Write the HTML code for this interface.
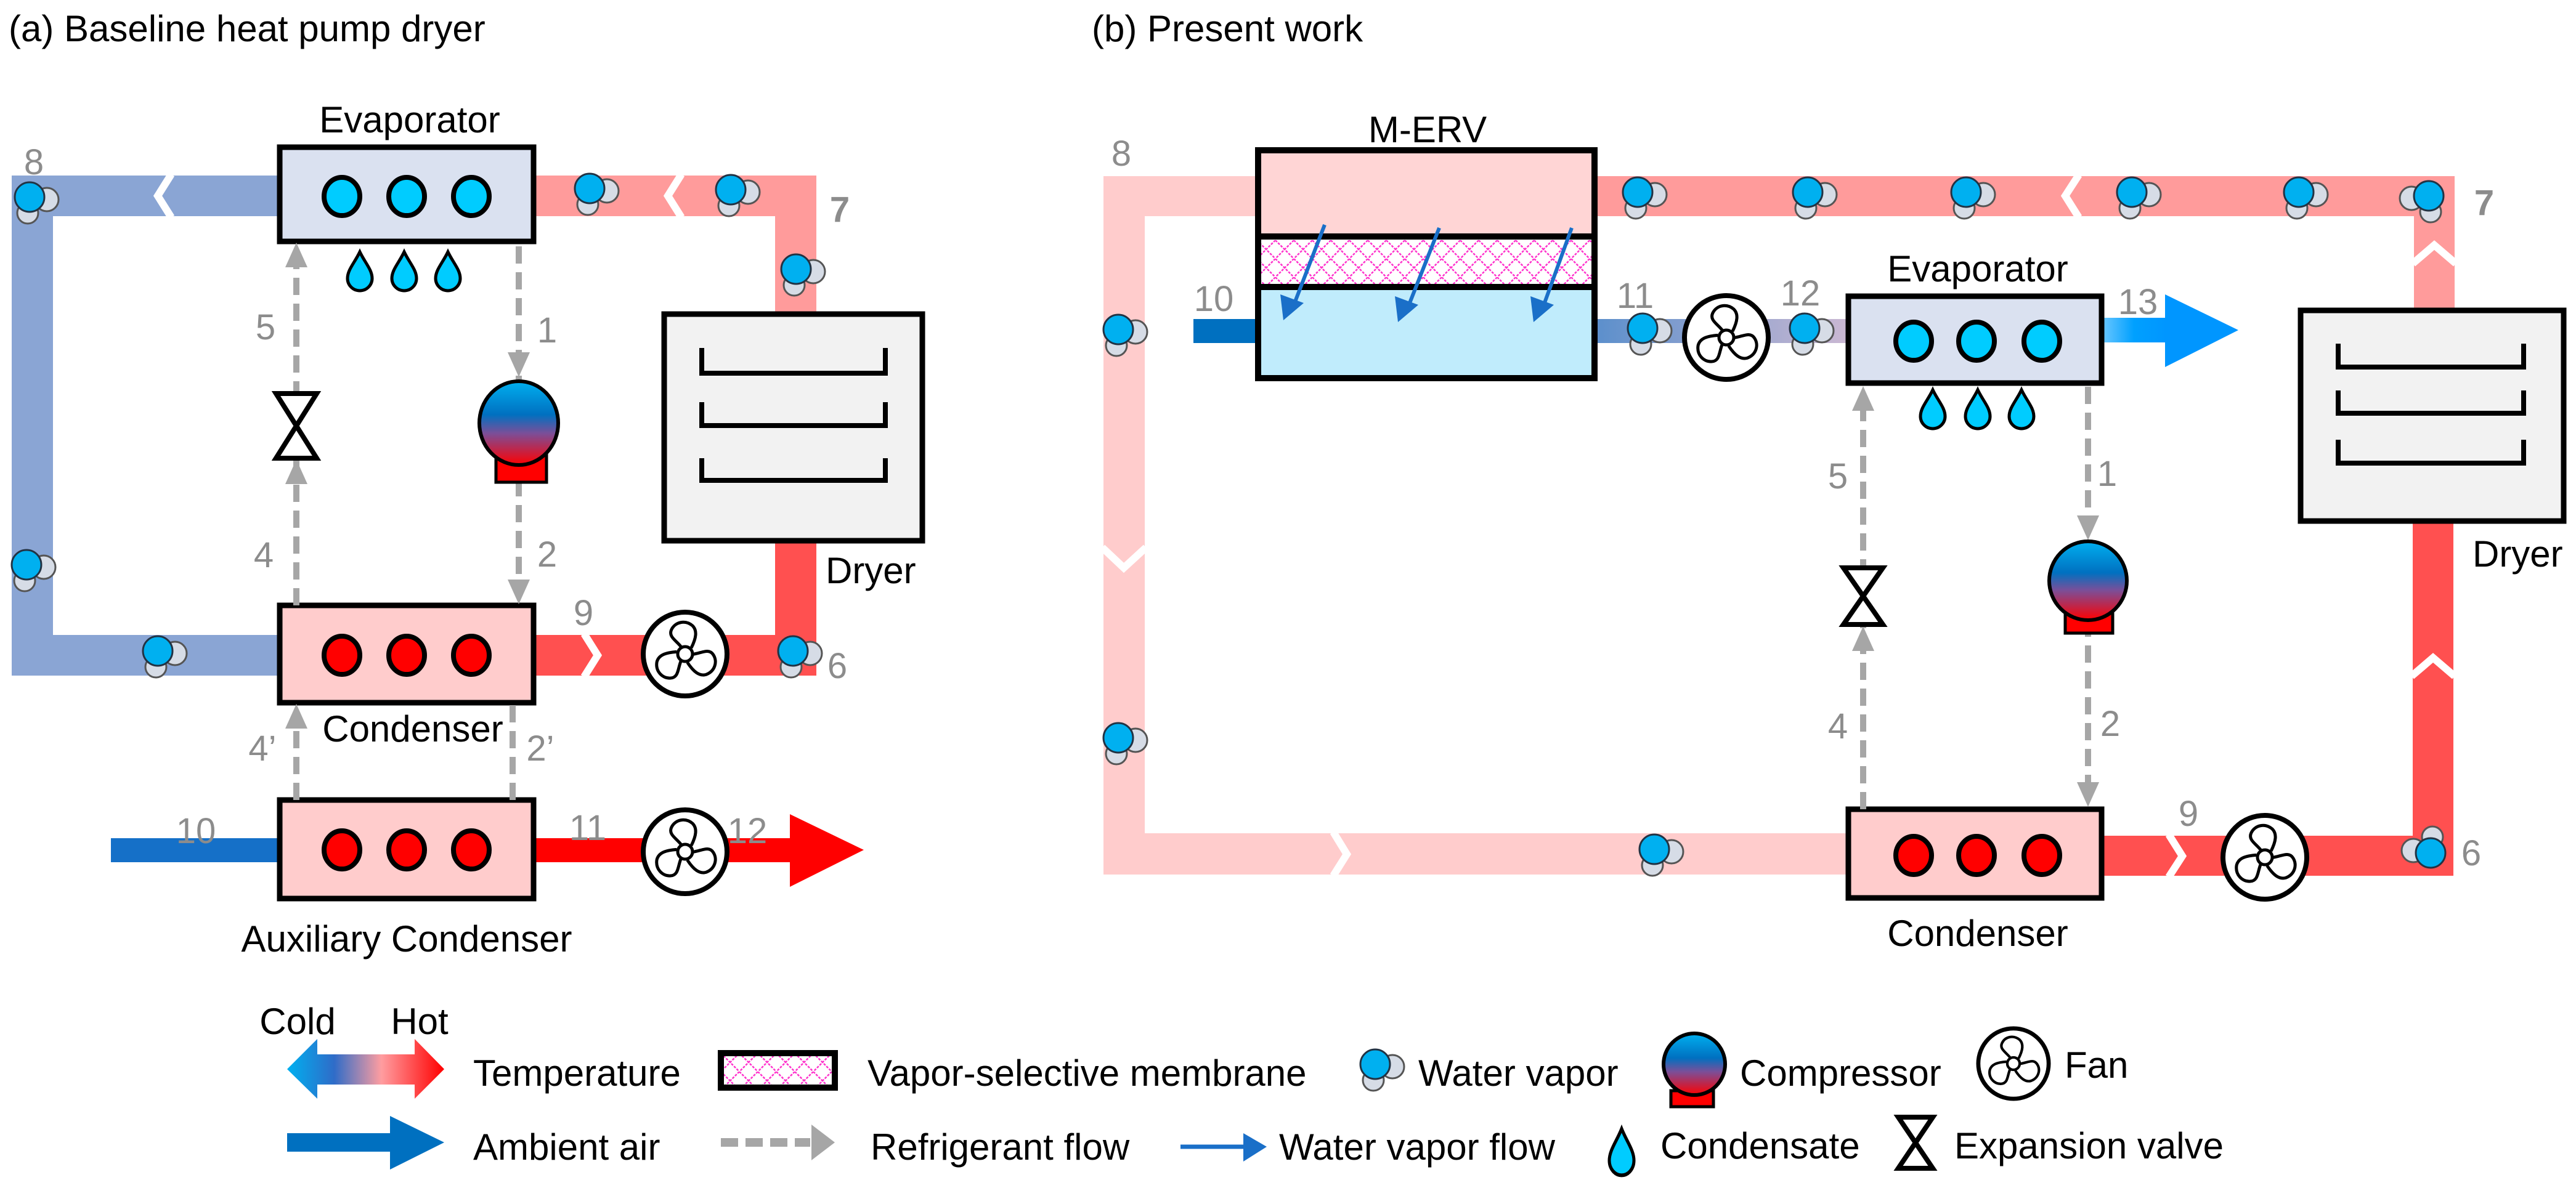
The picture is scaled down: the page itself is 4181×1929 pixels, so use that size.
<!DOCTYPE html>
<html><head><meta charset="utf-8"><style>
html,body{margin:0;padding:0;background:#fff}
svg{display:block}
text{font-family:"Liberation Sans",Arial,sans-serif}
.lb{font-size:60px;fill:#000}
.nm{font-size:58px;fill:#8c8c8c}
</style></head><body>
<svg width="4181" height="1929" viewBox="0 0 4181 1929" xmlns="http://www.w3.org/2000/svg">
<defs>
<g id="mol">
<circle cx="28" cy="4" r="19" fill="#d6dce6" stroke="#555" stroke-width="3"/>
<circle cx="-3" cy="26" r="17" fill="#d6dce6" stroke="#555" stroke-width="3"/>
<circle cx="0" cy="0" r="24" fill="#00b0f0" stroke="#234" stroke-width="3"/>
</g>
<g id="fan">
<circle cx="0" cy="0" r="68" fill="#fff" stroke="#000" stroke-width="8"/>
<g fill="none" stroke="#000" stroke-width="5">
<circle cx="0" cy="0" r="12"/>
<path id="bl" d="M-6,-11 C-14,-22 -28,-28 -22,-40 C-16,-52 0,-56 12,-46 C20,-38 18,-26 10,-10"/>
<use href="#bl" transform="rotate(120)"/>
<use href="#bl" transform="rotate(240)"/>
</g>
</g>
<path id="drop" d="M0,-31 C8,-14 20,-2 20,12 A20,20 0 0 1 -20,12 C-20,-2 -8,-14 0,-31 Z" fill="#00ccff" stroke="#000" stroke-width="5"/>
<linearGradient id="comp" x1="0" y1="0" x2="0" y2="1">
<stop offset="0" stop-color="#00b0f0"/><stop offset="0.4" stop-color="#0070c0"/><stop offset="0.62" stop-color="#7a4f99"/><stop offset="1" stop-color="#ff0000"/>
</linearGradient>
<linearGradient id="g1112" x1="0" y1="0" x2="1" y2="0">
<stop offset="0" stop-color="#5b8fcc"/><stop offset="1" stop-color="#cbb8d2"/>
</linearGradient>
<linearGradient id="g13" x1="0" y1="0" x2="1" y2="0">
<stop offset="0" stop-color="#6cc8ff"/><stop offset="0.5" stop-color="#00a0ff"/><stop offset="1" stop-color="#0096ff"/>
</linearGradient>
<linearGradient id="gtemp" x1="0" y1="0" x2="1" y2="0">
<stop offset="0" stop-color="#00b0f0"/><stop offset="0.3" stop-color="#2f6cc8"/><stop offset="0.6" stop-color="#ff9da0"/><stop offset="1" stop-color="#ff0000"/>
</linearGradient>
<pattern id="hatch" width="30" height="30" patternUnits="userSpaceOnUse">
<rect width="30" height="30" fill="#fff"/>
<path d="M0,0 L30,30 M30,0 L0,30" stroke="#ff33cc" stroke-width="2.5" stroke-dasharray="4 2"/>
</pattern>
<g id="evcirc"><ellipse cx="0" cy="0" rx="29" ry="31" fill="#00ccff" stroke="#000" stroke-width="8"/></g>
<g id="cdcirc"><ellipse cx="0" cy="0" rx="29" ry="31" fill="#ff0000" stroke="#000" stroke-width="8"/></g>
<path id="ahd" d="M-18,-40 L18,-40 L0,0 Z" fill="#a6a6a6"/>
<path id="ahu" d="M-18,40 L18,40 L0,0 Z" fill="#a6a6a6"/>
</defs>

<!-- Titles -->
<text x="14" y="67" class="lb">(a) Baseline heat pump dryer</text>
<text x="1772" y="67" class="lb">(b) Present work</text>

<!-- ===== PANEL A ===== -->
<rect x="19" y="285" width="435" height="66" fill="#8aa5d4"/>
<rect x="19" y="285" width="67" height="812" fill="#8aa5d4"/>
<rect x="19" y="1031" width="435" height="66" fill="#8aa5d4"/>
<rect x="866" y="285" width="459" height="66" fill="#ff9b9b"/>
<rect x="1258" y="285" width="67" height="226" fill="#ff9b9b"/>
<rect x="1258" y="876" width="67" height="221" fill="#ff5050"/>
<rect x="866" y="1031" width="459" height="66" fill="#ff5050"/>
<g fill="none" stroke="#fff" stroke-width="12">
<polyline points="278,283 256,318 278,353"/>
<polyline points="1106,283 1084,318 1106,353"/>
<polyline points="948,1029 970,1064 948,1099"/>
</g>
<!-- dryer a -->
<rect x="1078" y="510" width="419" height="368" fill="#f2f2f2" stroke="#000" stroke-width="9"/>
<g fill="none" stroke="#000" stroke-width="8">
<polyline points="1139,565 1139,606 1437,606 1437,565"/>
<polyline points="1139,653 1139,691 1437,691 1437,653"/>
<polyline points="1139,744 1139,780 1437,780 1437,744"/>
</g>
<!-- evaporator a -->
<rect x="454" y="239" width="412" height="153" fill="#dae1f0" stroke="#000" stroke-width="9"/>
<use href="#evcirc" x="555" y="319"/><use href="#evcirc" x="660" y="319"/><use href="#evcirc" x="765" y="319"/>
<use href="#drop" x="584" y="440"/><use href="#drop" x="656" y="440"/><use href="#drop" x="727" y="440"/>
<!-- condenser a -->
<rect x="454" y="983" width="412" height="158" fill="#ffcccc" stroke="#000" stroke-width="9"/>
<use href="#cdcirc" x="555" y="1064"/><use href="#cdcirc" x="660" y="1064"/><use href="#cdcirc" x="765" y="1064"/>
<!-- aux condenser -->
<rect x="180" y="1361" width="274" height="39" fill="#1570c8"/>
<rect x="866" y="1361" width="420" height="39" fill="#ff0000"/>
<polygon points="1282,1322 1402,1380 1282,1440" fill="#ff0000"/>
<rect x="454" y="1299" width="412" height="160" fill="#ffcccc" stroke="#000" stroke-width="9"/>
<use href="#cdcirc" x="555" y="1380"/><use href="#cdcirc" x="660" y="1380"/><use href="#cdcirc" x="765" y="1380"/>
<!-- refrigerant a -->
<g stroke="#a6a6a6" stroke-width="10" stroke-dasharray="28 14" fill="none">
<line x1="481" y1="983" x2="481" y2="420"/>
<line x1="842" y1="400" x2="842" y2="950"/>
<line x1="481" y1="1299" x2="481" y2="1175"/>
<line x1="832" y1="1145" x2="832" y2="1299"/>
</g>
<use href="#ahu" x="481" y="394"/>
<use href="#ahu" x="481" y="746"/>
<use href="#ahd" x="842" y="612"/>
<use href="#ahd" x="842" y="981"/>
<use href="#ahu" x="481" y="1143"/>
<polygon points="448,639 514,639 448,744 514,744" fill="#fff" stroke="#000" stroke-width="8" stroke-linejoin="miter"/>
<rect x="805" y="727" width="82" height="56" fill="#ff0000" stroke="#000" stroke-width="5"/>
<ellipse cx="842" cy="687" rx="64" ry="68" fill="url(#comp)" stroke="#000" stroke-width="6"/>
<use href="#fan" x="1112" y="1062"/>
<use href="#fan" x="1112" y="1383"/>
<!-- molecules a -->
<use href="#mol" x="48" y="320"/>
<use href="#mol" x="957" y="306"/>
<use href="#mol" x="1186" y="308"/>
<use href="#mol" x="1292" y="437"/>
<use href="#mol" x="43" y="917"/>
<use href="#mol" x="256" y="1057"/>
<use href="#mol" x="1287" y="1057"/>
<!-- labels a -->
<text x="665" y="215" class="lb" text-anchor="middle">Evaporator</text>
<text x="670" y="1204" class="lb" text-anchor="middle">Condenser</text>
<text x="660" y="1545" class="lb" text-anchor="middle">Auxiliary Condenser</text>
<text x="1340" y="947" class="lb">Dryer</text>
<g class="nm" text-anchor="middle">
<text x="431" y="551" class="nm">5</text>
<text x="888" y="556" class="nm">1</text>
<text x="428" y="921" class="nm">4</text>
<text x="888" y="920" class="nm">2</text>
<text x="947" y="1015" class="nm">9</text>
<text x="1359" y="1101" class="nm">6</text>
<text x="55" y="283" class="nm">8</text>
<text x="318" y="1369" class="nm">10</text>
<text x="954" y="1364" class="nm">11</text>
<text x="1213" y="1369" class="nm">12</text>
<text x="426" y="1235" class="nm">4’</text>
<text x="877" y="1235" class="nm">2’</text>
<text x="1363" y="360" class="nm" font-weight="bold" fill="#7f7f7f">7</text>
</g>

<!-- ===== PANEL B ===== -->
<rect x="1791" y="286" width="251" height="65" fill="#ffcccc"/>
<rect x="1791" y="286" width="67" height="1134" fill="#ffcccc"/>
<rect x="1791" y="1353" width="1209" height="67" fill="#ffcccc"/>
<rect x="2588" y="286" width="1396" height="65" fill="#ff9b9b"/>
<rect x="3918" y="286" width="66" height="218" fill="#ff9b9b"/>
<rect x="3916" y="846" width="66" height="576" fill="#ff5050"/>
<rect x="3411" y="1357" width="571" height="65" fill="#ff5050"/>
<g fill="none" stroke="#fff" stroke-width="12">
<polyline points="1789,889 1824,922 1860,889"/>
<polyline points="2164,1351 2186,1387 2164,1422"/>
<polyline points="3374,284 3352,318 3374,353"/>
<polyline points="3916,428 3951,398 3986,428"/>
<polyline points="3914,1098 3949,1068 3984,1098"/>
<polyline points="3520,1355 3542,1390 3520,1424"/>
</g>
<!-- M-ERV -->
<rect x="1937" y="518" width="105" height="39" fill="#0070c0"/>
<rect x="2588" y="518" width="413" height="39" fill="url(#g1112)"/>
<rect x="2042" y="244" width="546" height="140" fill="#ffd5d5"/>
<rect x="2042" y="384" width="546" height="82" fill="url(#hatch)"/>
<rect x="2042" y="466" width="546" height="148" fill="#c0ecfc"/>
<rect x="2042" y="244" width="546" height="370" fill="none" stroke="#000" stroke-width="10"/>
<line x1="2042" y1="384" x2="2588" y2="384" stroke="#000" stroke-width="10"/>
<line x1="2042" y1="466" x2="2588" y2="466" stroke="#000" stroke-width="10"/>
<g stroke="#1a6fc8" stroke-width="6" fill="#1a6fc8">
<line x1="2150" y1="365" x2="2100" y2="495"/>
<polygon points="2083,520 2078,478 2116,492" stroke="none"/>
<line x1="2336" y1="370" x2="2286" y2="497"/>
<polygon points="2269,523 2264,481 2302,495" stroke="none"/>
<line x1="2551" y1="370" x2="2505" y2="497"/>
<polygon points="2489,523 2484,481 2522,495" stroke="none"/>
</g>
<!-- evaporator b -->
<rect x="3411" y="516" width="105" height="40" fill="url(#g13)"/>
<polygon points="3514,478 3633,536 3514,596" fill="#0096ff"/>
<rect x="3000" y="481" width="411" height="141" fill="#dae1f0" stroke="#000" stroke-width="9"/>
<use href="#evcirc" x="3106" y="554"/><use href="#evcirc" x="3208" y="554"/><use href="#evcirc" x="3314" y="554"/>
<use href="#drop" x="3137" y="664"/><use href="#drop" x="3210" y="664"/><use href="#drop" x="3281" y="664"/>
<!-- condenser b -->
<rect x="3000" y="1314" width="411" height="144" fill="#ffcccc" stroke="#000" stroke-width="9"/>
<use href="#cdcirc" x="3106" y="1389"/><use href="#cdcirc" x="3208" y="1389"/><use href="#cdcirc" x="3314" y="1389"/>
<!-- dryer b -->
<rect x="3734" y="504" width="427" height="342" fill="#f2f2f2" stroke="#000" stroke-width="9"/>
<g fill="none" stroke="#000" stroke-width="8">
<polyline points="3795,558 3795,596 4096,596 4096,558"/>
<polyline points="3795,634 3795,671 4096,671 4096,634"/>
<polyline points="3795,714 3795,752 4096,752 4096,714"/>
</g>
<!-- refrigerant b -->
<g stroke="#a6a6a6" stroke-width="10" stroke-dasharray="28 14" fill="none">
<line x1="3024" y1="1314" x2="3024" y2="655"/>
<line x1="3389" y1="628" x2="3389" y2="1275"/>
</g>
<use href="#ahu" x="3024" y="627"/>
<use href="#ahu" x="3024" y="1017"/>
<use href="#ahd" x="3389" y="877"/>
<use href="#ahd" x="3389" y="1310"/>
<polygon points="2992,922 3056,922 2992,1014 3056,1014" fill="#fff" stroke="#000" stroke-width="8"/>
<rect x="3352" y="986" width="77" height="42" fill="#ff0000" stroke="#000" stroke-width="5"/>
<ellipse cx="3389" cy="943" rx="63" ry="64" fill="url(#comp)" stroke="#000" stroke-width="6"/>
<use href="#fan" x="2802" y="548"/>
<use href="#fan" x="3676" y="1392"/>
<!-- molecules b -->
<use href="#mol" x="1815" y="535"/>
<use href="#mol" x="1815" y="1198"/>
<use href="#mol" x="2658" y="312"/>
<use href="#mol" x="2934" y="312"/>
<use href="#mol" x="3191" y="312"/>
<use href="#mol" x="3460" y="312"/>
<use href="#mol" x="3731" y="312"/>
<use href="#mol" x="2666" y="533"/>
<use href="#mol" x="2929" y="533"/>
<use href="#mol" x="2685" y="1379"/>
<g transform="translate(3942,318) scale(-1,1)"><use href="#mol"/></g>
<g transform="translate(3945,1385) scale(-1,-1)"><use href="#mol"/></g>
<!-- labels b -->
<text x="2317" y="231" class="lb" text-anchor="middle">M-ERV</text>
<text x="3210" y="457" class="lb" text-anchor="middle">Evaporator</text>
<text x="3210" y="1536" class="lb" text-anchor="middle">Condenser</text>
<text x="4013" y="920" class="lb">Dryer</text>
<g text-anchor="middle">
<text x="1820" y="269" class="nm">8</text>
<text x="1970" y="505" class="nm">10</text>
<text x="2654" y="500" class="nm">11</text>
<text x="2922" y="496" class="nm">12</text>
<text x="3470" y="510" class="nm">13</text>
<text x="2983" y="793" class="nm">5</text>
<text x="3420" y="789" class="nm">1</text>
<text x="2983" y="1199" class="nm">4</text>
<text x="3425" y="1195" class="nm">2</text>
<text x="3552" y="1341" class="nm">9</text>
<text x="4011" y="1405" class="nm">6</text>
<text x="4032" y="349" class="nm" font-weight="bold" fill="#7f7f7f">7</text>
</g>

<!-- ===== LEGEND ===== -->
<text x="483" y="1679" class="lb" text-anchor="middle" font-size="56">Cold</text>
<text x="681" y="1679" class="lb" text-anchor="middle" font-size="56">Hot</text>
<polygon points="466,1736 515,1687 515,1712 673,1712 673,1687 721,1736 673,1784 673,1761 515,1761 515,1784" fill="url(#gtemp)"/>
<text x="768" y="1763" class="lb" font-size="57">Temperature</text>
<rect x="1170" y="1710" width="185" height="56" fill="url(#hatch)" stroke="#000" stroke-width="10"/>
<text x="1408" y="1763" class="lb" font-size="57">Vapor-selective membrane</text>
<use href="#mol" x="2232" y="1728"/>
<text x="2302" y="1763" class="lb" font-size="57">Water vapor</text>
<rect x="2712" y="1771" width="69" height="26" fill="#ff0000" stroke="#000" stroke-width="5"/>
<ellipse cx="2750" cy="1728" rx="50" ry="50" fill="url(#comp)" stroke="#000" stroke-width="6"/>
<text x="2824" y="1763" class="lb" font-size="57">Compressor</text>
<g transform="translate(3268,1727) scale(0.84)"><use href="#fan"/></g>
<text x="3351" y="1750" class="lb" font-size="57">Fan</text>

<polygon points="466,1840 633,1840 633,1812 721,1855 633,1899 633,1870 466,1870" fill="#0070c0"/>
<text x="768" y="1883" class="lb" font-size="57">Ambient air</text>
<line x1="1170" y1="1855" x2="1315" y2="1855" stroke="#a6a6a6" stroke-width="14" stroke-dasharray="28 12"/>
<polygon points="1317,1826 1355,1855 1317,1884" fill="#a6a6a6"/>
<text x="1413" y="1883" class="lb" font-size="57">Refrigerant flow</text>
<line x1="1916" y1="1862" x2="2022" y2="1862" stroke="#1a6fc8" stroke-width="7"/>
<polygon points="2018,1840 2056,1862 2018,1886" fill="#1a6fc8"/>
<text x="2076" y="1883" class="lb" font-size="57">Water vapor flow</text>
<g transform="translate(2632,1870) scale(1,1.2)"><use href="#drop"/></g>
<text x="2695" y="1881" class="lb" font-size="57">Condensate</text>
<polygon points="3081,1814 3137,1814 3081,1897 3137,1897" fill="#fff" stroke="#000" stroke-width="8"/>
<text x="3172" y="1881" class="lb" font-size="57">Expansion valve</text>
</svg>
</body></html>
